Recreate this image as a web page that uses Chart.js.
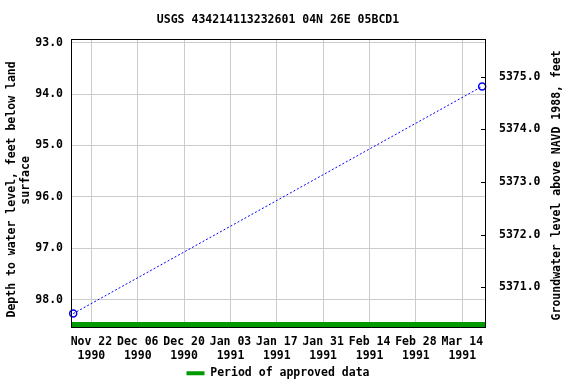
<!DOCTYPE html>
<html><head><meta charset="utf-8">
<script src="https://cdn.jsdelivr.net/npm/chart.js@4/dist/chart.umd.min.js"></script>
<style>html,body{margin:0;padding:0;background:#fff}#wrap{width:576px;height:384px;position:relative}</style>
</head><body><div id="wrap"><canvas id="c"></canvas></div>
<script>
// ---- data ----
const chartTitle = 'USGS 434214113232601 04N 26E 05BCD1';
const sampleDates = ['1990-11-16T12:00', '1991-03-20T00:00'];
const depthValues = [98.27, 93.85];
const approvedPeriod = ['1990-11-15T00:00', '1991-03-22T00:00'];
const xTickDates = ['1990-11-22','1990-12-06','1990-12-20','1991-01-03','1991-01-17','1991-01-31','1991-02-14','1991-02-28','1991-03-14'];
const xRange = ['1990-11-15T20:10', '1991-03-20T20:40'];
const depthTicks = [93, 94, 95, 96, 97, 98];
const depthRange = [92.934, 98.54];
const elevTicks = [5371, 5372, 5373, 5374, 5375];
const elevRange = [5370.232, 5375.712];
const leftTitle = ['Depth to water level, feet below land', 'surface'];
const rightTitle = 'Groundwater level above NAVD 1988, feet';
const legendLabel = 'Period of approved data';
const monthNames = ['Jan','Feb','Mar','Apr','May','Jun','Jul','Aug','Sep','Oct','Nov','Dec'];

// ---- helpers ----
const toMs = s => Date.parse((s.length === 10 ? s + 'T00:00' : s) + 'Z');
const REF = toMs(xTickDates[0]);
const day = s => (toMs(s) - REF) / 86400000;
const xLabel = s => { const d = new Date(toMs(s)); return [monthNames[d.getUTCMonth()] + ' ' + String(d.getUTCDate()).padStart(2, '0'), String(d.getUTCFullYear())]; };

const FAM = "'DejaVu Sans Mono', 'Liberation Mono', monospace";
const font = { family: FAM, size: 11.5, weight: 'bold' };
Chart.defaults.color = '#000';
const barLevel = depthRange[1] - 0.06;

const framePlugin = {
  id: 'frame',
  afterDraw(chart) {
    const { ctx, chartArea: a } = chart;
    ctx.save();
    // right-axis inward tick marks
    const y2 = chart.scales.y2;
    ctx.strokeStyle = '#000'; ctx.lineWidth = 1;
    ctx.beginPath();
    y2.ticks.forEach(t => { const p = Math.round(y2.getPixelForValue(t.value)) + 0.5; ctx.moveTo(a.right - 4, p); ctx.lineTo(a.right, p); });
    ctx.stroke();
    // frame
    ctx.strokeRect(Math.round(a.left) + 0.5, Math.round(a.top) + 0.5, Math.round(a.right - a.left), Math.round(a.bottom - a.top));
    // axis titles
    ctx.fillStyle = '#000';
    ctx.font = 'bold 11.5px ' + FAM;
    ctx.textAlign = 'center'; ctx.textBaseline = 'middle';
    const mid = (a.top + a.bottom) / 2;
    const put = (txt, x, y) => { ctx.save(); ctx.translate(x, y); ctx.rotate(-Math.PI / 2); ctx.fillText(txt, 0, 0); ctx.restore(); };
    put(leftTitle[0], 12, mid + 6);
    put(leftTitle[1], 26, mid - 3);
    put(rightTitle, 557, mid + 2);
    ctx.restore();
  }
};

new Chart(document.getElementById('c'), {
  type: 'line',
  data: {
    datasets: [
      {
        label: 'Depth', yAxisID: 'y',
        data: sampleDates.map((d, i) => ({ x: day(d), y: depthValues[i] })),
        borderColor: '#0000ff', borderWidth: 1, borderDash: [2, 2],
        pointRadius: 3.5, pointBorderWidth: 1.5, pointBorderColor: '#0000ff',
        pointBackgroundColor: 'rgba(0,0,0,0)', fill: false, tension: 0, clip: false
      },
      {
        label: legendLabel, yAxisID: 'y',
        data: approvedPeriod.map(d => ({ x: day(d), y: barLevel })),
        borderColor: '#009900', backgroundColor: '#009900', borderWidth: 5,
        pointRadius: 0, borderCapStyle: 'butt', fill: false, clip: 0
      }
    ]
  },
  options: {
    responsive: true, maintainAspectRatio: false, animation: false,
    layout: { padding: { top: 0, left: 0, right: 0, bottom: -5 } },
    plugins: {
      title: { display: true, fullSize: false, text: chartTitle, font, color: '#000', padding: { top: 13, bottom: 12.5 } },
      legend: {
        position: 'bottom', fullSize: false,
        labels: {
          font, color: '#000', boxWidth: 18, boxHeight: 4, padding: 6,
          generateLabels: chart => Chart.defaults.plugins.legend.labels.generateLabels(chart)
            .filter(l => l.datasetIndex === 1).map(l => Object.assign(l, { lineWidth: 0, strokeStyle: 'rgba(0,0,0,0)' }))
        }
      },
      tooltip: { enabled: false }
    },
    scales: {
      x: {
        type: 'linear', min: day(xRange[0]), max: day(xRange[1]),
        grid: { color: '#cccccc', drawTicks: false }, border: { display: false },
        ticks: { font, color: '#000', padding: 8, maxRotation: 0, autoSkip: false,
          callback: (v, i) => xLabel(xTickDates[i]) },
        afterBuildTicks: s => { s.ticks = xTickDates.map(d => ({ value: day(d) })); },
        afterFit: s => { s.height = 34; }
      },
      y: {
        position: 'left', reverse: true, min: depthRange[0], max: depthRange[1],
        grid: { color: '#cccccc', drawTicks: false }, border: { display: false },
        ticks: { font, color: '#000', padding: 8, callback: v => v.toFixed(1) },
        afterBuildTicks: s => { s.ticks = depthTicks.map(v => ({ value: v })); },
        afterFit: s => { s.width = 71; }
      },
      y2: {
        position: 'right', min: elevRange[0], max: elevRange[1],
        grid: { display: false }, border: { display: false },
        ticks: { font, color: '#000', padding: 6, callback: v => v.toFixed(1) },
        afterBuildTicks: s => { s.ticks = elevTicks.map(v => ({ value: v })); },
        afterFit: s => { s.width = 91; }
      }
    }
  },
  plugins: [framePlugin]
});
</script>
</body></html>
